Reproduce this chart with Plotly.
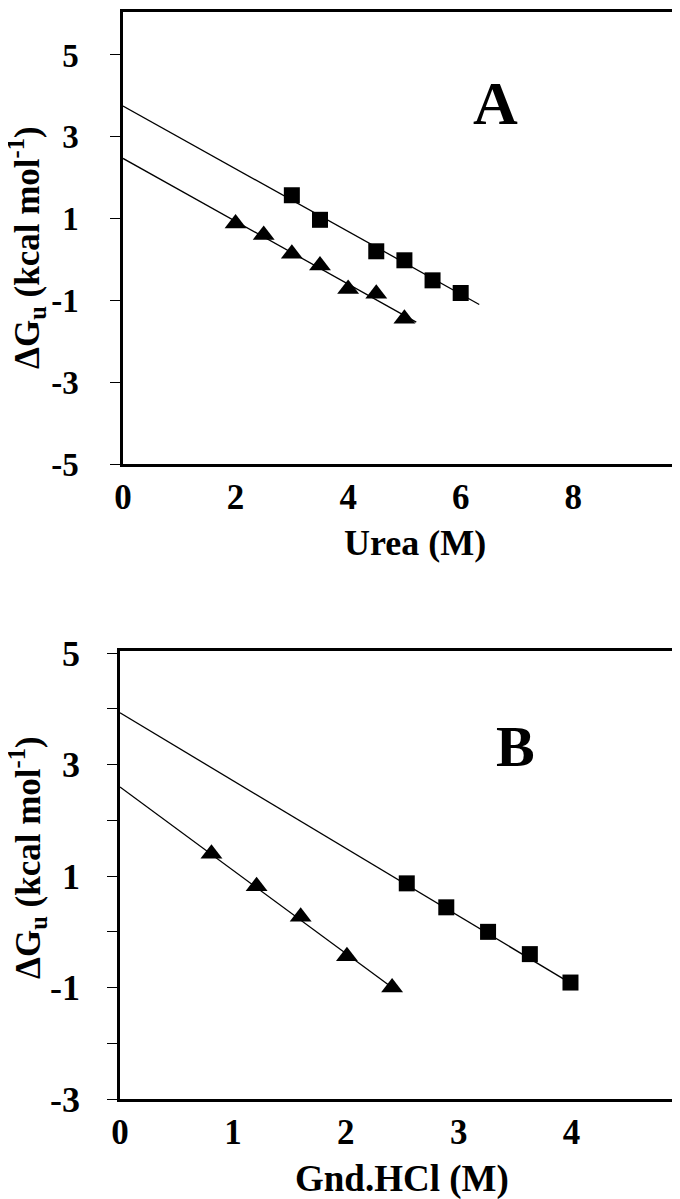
import plotly.graph_objects as go

# ---------------- data ----------------
# Panel A: urea denaturation
urea_sq_x = [3.0, 3.5, 4.5, 5.0, 5.5, 6.0]
urea_sq_y = [1.57, 0.97, 0.20, -0.02, -0.51, -0.82]
urea_tri_x = [2.0, 2.5, 3.0, 3.5, 4.0, 4.5, 5.0]
urea_tri_y = [0.88, 0.60, 0.14, -0.15, -0.72, -0.84, -1.45]
urea_fit_sq_x = [0.0, 6.33]
urea_fit_sq_y = [3.75, -1.10]
urea_fit_tri_x = [0.0, 5.21]
urea_fit_tri_y = [2.47, -1.53]

# Panel B: Gnd.HCl denaturation
gnd_sq_x = [2.54, 2.89, 3.26, 3.63, 3.99]
gnd_sq_y = [0.87, 0.44, 0.00, -0.40, -0.91]
gnd_tri_x = [0.81, 1.21, 1.60, 2.01, 2.41]
gnd_tri_y = [1.40, 0.82, 0.27, -0.44, -1.00]
gnd_fit_sq_x = [0.0, 3.99]
gnd_fit_sq_y = [3.93, -0.92]
gnd_fit_tri_x = [0.0, 2.41]
gnd_fit_tri_y = [2.60, -1.00]

urea_xticks = [0, 2, 4, 6, 8]
urea_yticks = [-5, -3, -1, 1, 3, 5]
gnd_xticks = [0, 1, 2, 3, 4]
gnd_yticks = [-3, -1, 1, 3, 5]

# ---------------- layout geometry ----------------
W, H = 680, 1199
A_x = [115 / W, 675 / W]
A_y = [1 - 456 / H, 1 - 4 / H]
B_x = [112 / W, 672 / W]
B_y = [1 - 1091 / H, 1 - 643 / H]
A_xr, A_yr = [0, 9.95], [-5, 6.05]
B_xr, B_yr = [0, 4.96], [-3, 5.04]


def zero_pos(dom, rng):
    return dom[0] + (0 - rng[0]) / (rng[1] - rng[0]) * (dom[1] - dom[0])


FONT = "Liberation Serif"
BLK = "black"

fig = go.Figure()


def add_panel(sqx, sqy, trx, try_, fsx, fsy, ftx, fty, xa, ya):
    fig.add_trace(go.Scatter(x=fsx, y=fsy, mode="lines", line=dict(color=BLK, width=1.3),
                             xaxis=xa, yaxis=ya, showlegend=False, hoverinfo="skip"))
    fig.add_trace(go.Scatter(x=ftx, y=fty, mode="lines", line=dict(color=BLK, width=1.3),
                             xaxis=xa, yaxis=ya, showlegend=False, hoverinfo="skip"))
    fig.add_trace(go.Scatter(x=sqx, y=sqy, mode="markers",
                             marker=dict(symbol="square", size=16, color=BLK),
                             xaxis=xa, yaxis=ya, showlegend=False))
    fig.add_trace(go.Scatter(x=trx, y=try_, mode="markers",
                             marker=dict(symbol="triangle-up", size=19, color=BLK),
                             xaxis=xa, yaxis=ya, showlegend=False))


add_panel(urea_sq_x, urea_sq_y, urea_tri_x, urea_tri_y,
          urea_fit_sq_x, urea_fit_sq_y, urea_fit_tri_x, urea_fit_tri_y, "x", "y")
add_panel(gnd_sq_x, gnd_sq_y, gnd_tri_x, gnd_tri_y,
          gnd_fit_sq_x, gnd_fit_sq_y, gnd_fit_tri_x, gnd_fit_tri_y, "x2", "y2")

common_x = dict(showgrid=False, zeroline=False, showline=True, mirror=True,
                linecolor=BLK, linewidth=2.5, automargin=False, ticks="",
                tickfont=dict(family=FONT, size=35, color=BLK, weight="bold"))
common_y = dict(showgrid=False, zeroline=False, showline=True, mirror=True,
                linecolor=BLK, linewidth=2.5, automargin=False,
                ticks="outside", ticklen=10, tickwidth=1.2, tickcolor=BLK)
zero_axis = dict(anchor="free", showgrid=False, zeroline=False, showline=True,
                 linecolor=BLK, linewidth=1.5, ticks="outside", ticklen=9,
                 tickwidth=1.2, tickcolor=BLK, showticklabels=False, automargin=False)

fig.update_layout(
    width=W, height=H, margin=dict(l=0, r=0, t=0, b=0),
    paper_bgcolor="white", plot_bgcolor="white", template="none",
    xaxis=dict(domain=A_x, range=A_xr, anchor="y", tickmode="array",
               tickvals=urea_xticks, ticktext=[str(v) for v in urea_xticks],
               ticklabelstandoff=0, **common_x),
    yaxis=dict(domain=A_y, range=A_yr, anchor="x", tickmode="array",
               tickvals=urea_yticks, ticktext=[str(v) for v in urea_yticks],
               tickfont=dict(family=FONT, size=33, color=BLK, weight="bold"),
               ticklabelstandoff=25, **common_y),
    xaxis3=dict(overlaying="x", range=A_xr, position=zero_pos(A_y, A_yr),
                tickmode="linear", tick0=0, dtick=1, **zero_axis),
    xaxis2=dict(domain=B_x, range=B_xr, anchor="y2", tickmode="array",
                tickvals=gnd_xticks, ticktext=[str(v) for v in gnd_xticks],
                ticklabelstandoff=0, **common_x),
    yaxis2=dict(domain=B_y, range=B_yr, anchor="x2", tickmode="array",
                tickvals=gnd_yticks, ticktext=[str(v) for v in gnd_yticks],
                tickfont=dict(family=FONT, size=36, color=BLK, weight="bold"),
                ticklabelstandoff=20,
                minor=dict(dtick=1, tick0=0, ticks="outside", ticklen=10, tickcolor=BLK, tickwidth=1.2),
                **common_y),
    xaxis4=dict(overlaying="x2", range=B_xr, position=zero_pos(B_y, B_yr),
                tickmode="linear", tick0=0, dtick=0.5, **zero_axis),
)


def ann_font(s):
    return dict(family=FONT, size=s, color=BLK, weight="bold")


annotations = [
    dict(text="A", x=487 / W, y=1 - 95 / H, font=ann_font(62)),
    dict(text="B", x=507 / W, y=1 - 738 / H, font=ann_font(58)),
    dict(text="Urea (M)", x=407 / W, y=1 - 535 / H, font=ann_font(36)),
    dict(text="Gnd.HCl (M)", x=394 / W, y=1 - 1171 / H, font=ann_font(37)),
    dict(text="ΔG<sub>u</sub> (kcal mol<sup>-1</sup>)", x=19 / W, y=1 - 240 / H,
         textangle=-90, font=ann_font(35)),
    dict(text="ΔG<sub>u</sub> (kcal mol<sup>-1</sup>)", x=19 / W, y=1 - 850 / H,
         textangle=-90, font=ann_font(35)),
]
for a in annotations:
    a.update(xref="paper", yref="paper", showarrow=False, xanchor="center", yanchor="middle")
fig.update_layout(annotations=annotations)

fig.write_html("out.html")
